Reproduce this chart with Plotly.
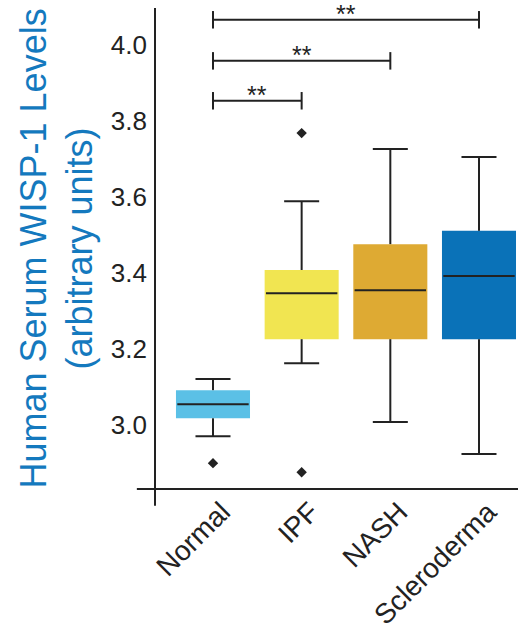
import plotly.graph_objects as go

categories = ["Normal", "IPF", "NASH", "Scleroderma"]
lower_whisker = [2.971, 3.163, 3.008, 2.924]
q1 = [3.018, 3.226, 3.226, 3.226]
median = [3.055, 3.347, 3.355, 3.392]
q3 = [3.092, 3.408, 3.476, 3.511]
upper_whisker = [3.121, 3.589, 3.726, 3.705]
outlier_groups = ["Normal", "IPF", "IPF"]
outlier_values = [2.900, 3.768, 2.876]
box_colors = ["#5BC0E6", "#F1E551", "#DEAA33", "#0A72B8"]

sig_pairs = [("Normal", "IPF"), ("Normal", "NASH"), ("Normal", "Scleroderma")]
sig_levels = [3.853, 3.958, 4.066]
sig_labels = ["**", "**", "**"]

y_ticks = [3.0, 3.2, 3.4, 3.6, 3.8, 4.0]

BOX_W = 0.835
CAP_W = 0.395
DARK = "#222222"
FONT = "Liberation Sans, Arial, sans-serif"

xpos = list(range(len(categories)))
idx = {c: i for i, c in enumerate(categories)}

fig = go.Figure()

fig.add_trace(go.Bar(
    x=xpos, y=[b - a for a, b in zip(q1, q3)], base=q1, width=BOX_W,
    marker=dict(color=box_colors, line=dict(width=0)), showlegend=False,
    hoverinfo="skip"))

wx, wy = [], []
for i in xpos:
    wx += [i, i, None, i, i, None]
    wy += [q3[i], upper_whisker[i], None, lower_whisker[i], q1[i], None]
    wx += [i - CAP_W / 2, i + CAP_W / 2, None, i - CAP_W / 2, i + CAP_W / 2, None]
    wy += [upper_whisker[i], upper_whisker[i], None, lower_whisker[i], lower_whisker[i], None]
    mw = BOX_W / 2 - 0.015
    wx += [i - mw, i + mw, None]
    wy += [median[i], median[i], None]
fig.add_trace(go.Scatter(x=wx, y=wy, mode="lines", line=dict(color=DARK, width=2),
                         showlegend=False, hoverinfo="skip"))

fig.add_trace(go.Scatter(x=[idx[g] for g in outlier_groups], y=outlier_values, mode="markers",
                         marker=dict(symbol="diamond", size=8, color=DARK),
                         showlegend=False))

TICK_H = 0.023
for (a, b), lvl, lab in zip(sig_pairs, sig_levels, sig_labels):
    xa, xb = idx[a], idx[b]
    fig.add_trace(go.Scatter(
        x=[xa, xa, None, xa, xb, None, xb, xb],
        y=[lvl - TICK_H, lvl + TICK_H, None, lvl, lvl, None, lvl - TICK_H, lvl + TICK_H],
        mode="lines", line=dict(color=DARK, width=2), showlegend=False, hoverinfo="skip"))
    fig.add_annotation(x=(xa + xb) / 2, y=lvl, text=lab, showarrow=False,
                       yanchor="bottom", yshift=-10,
                       font=dict(size=25, color=DARK, family=FONT))

fig.add_shape(type="line", xref="paper", yref="paper", x0=0, x1=0, y0=-0.035, y1=1,
              line=dict(color=DARK, width=2))
fig.add_shape(type="line", xref="paper", yref="paper", x0=-0.05, x1=1, y0=0, y1=0,
              line=dict(color=DARK, width=2))

fig.add_annotation(xref="paper", yref="paper", x=-0.2727, y=0.5, textangle=-90,
                   text="Human Serum WISP-1 Levels<br>(arbitrary units)", showarrow=False,
                   xanchor="center", yanchor="middle",
                   font=dict(size=36, color="#1479BE", family=FONT))

fig.update_layout(
    width=518, height=633,
    margin=dict(l=155, r=0, t=8, b=144),
    plot_bgcolor="white", paper_bgcolor="white",
    font=dict(family=FONT, color=DARK),
    xaxis=dict(range=[-0.654, 3.44], tickvals=xpos, ticktext=categories, tickangle=-45,
               showgrid=False, zeroline=False, showline=False, ticks="",
               ticklabelshift=9,
               tickfont=dict(size=28, color=DARK)),
    yaxis=dict(range=[2.832, 4.097], tickvals=y_ticks, ticktext=[f"{v:.1f}" for v in y_ticks],
               showgrid=False, zeroline=False, showline=False, ticks="",
               ticklabelstandoff=7,
               tickfont=dict(size=26, color=DARK)),
)

fig.write_html("out.html")
